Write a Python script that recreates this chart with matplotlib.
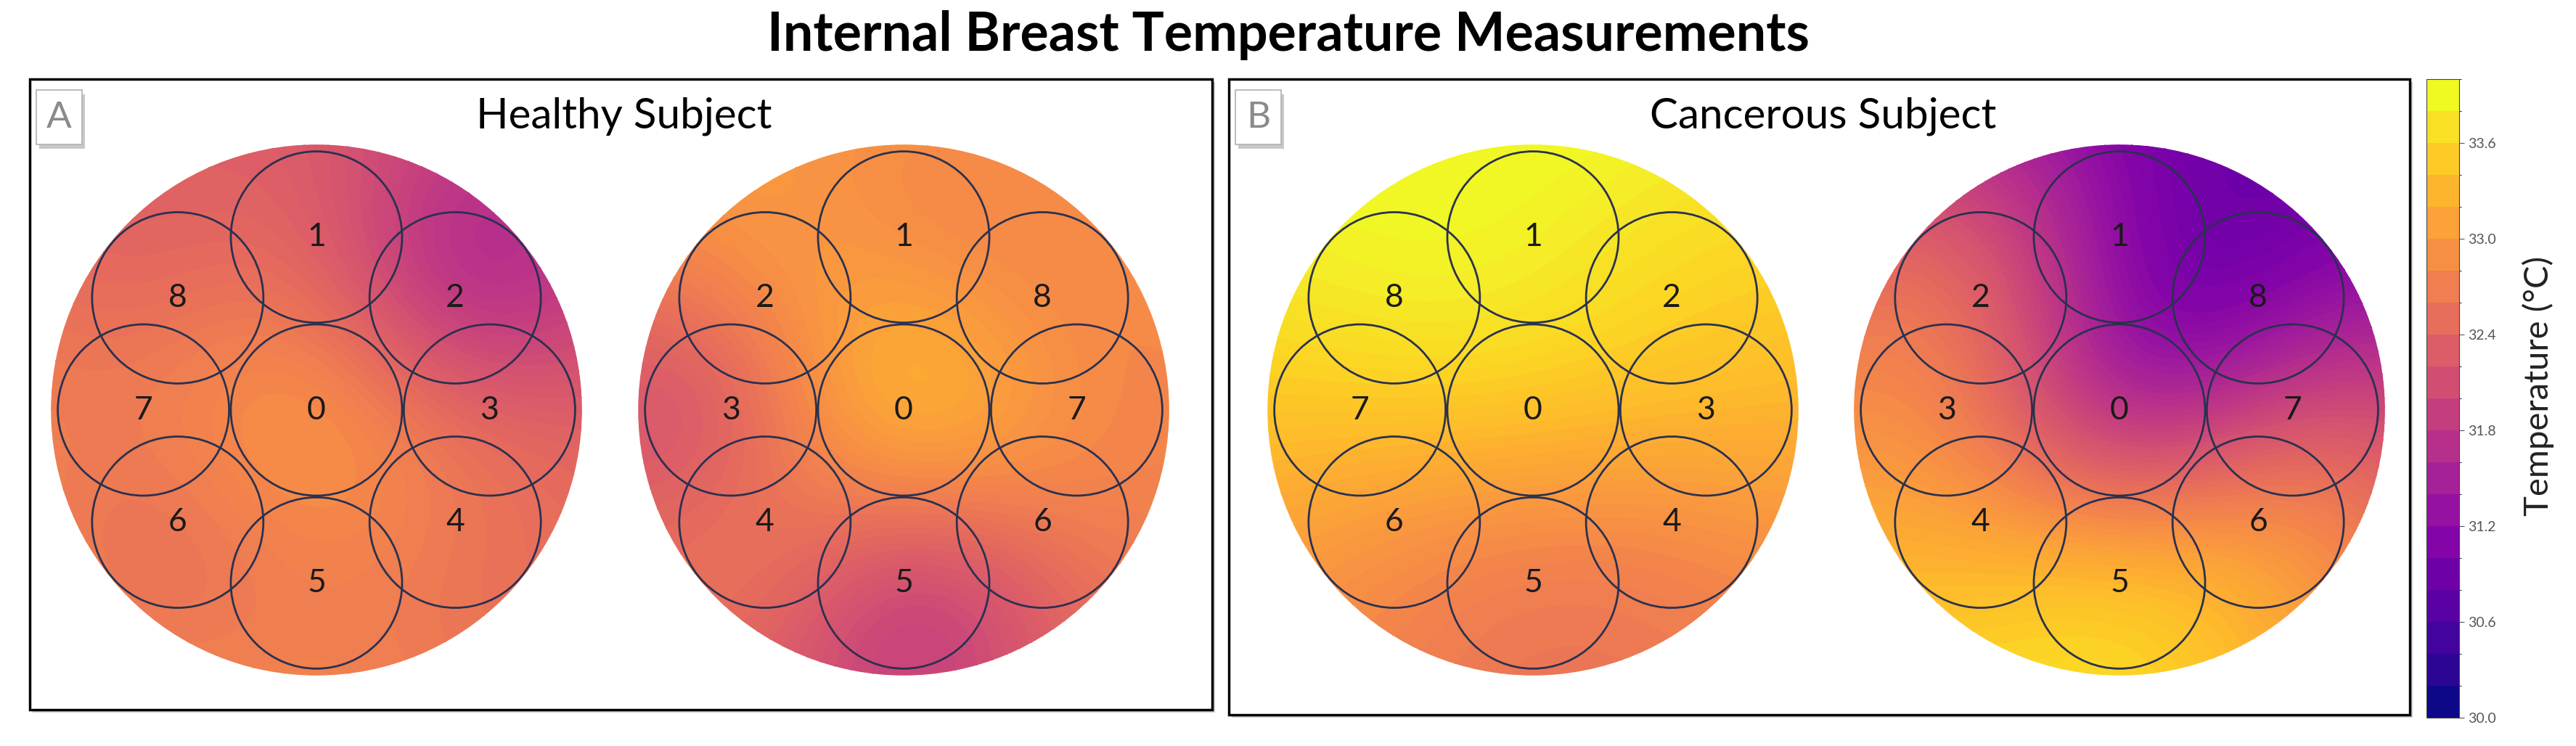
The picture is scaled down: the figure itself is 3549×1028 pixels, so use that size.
import numpy as np
import matplotlib.pyplot as plt
from matplotlib.patches import Circle, Rectangle
from matplotlib.colors import BoundaryNorm
from matplotlib.cm import ScalarMappable

plt.rcParams['font.family'] = ['Lato', 'DejaVu Sans']

W, H = 3549, 1028
fig = plt.figure(figsize=(W / 100, H / 100), dpi=100)

# ------------------------------------------------------------
# Data: temperature (°C) at each sensor, index = sensor number 0..8
# ------------------------------------------------------------
sensor_ids = [0, 1, 2, 3, 4, 5, 6, 7, 8]
healthy_left = [32.85, 32.3, 31.85, 32.35, 32.65, 32.75, 32.65, 32.7, 32.55]
healthy_right = [33.15, 32.95, 32.85, 32.45, 32.55, 32.15, 32.65, 32.9, 32.9]
cancer_left = [33.45, 33.9, 33.65, 33.35, 32.95, 32.75, 33.05, 33.5, 33.85]
cancer_right = [31.8, 31.2, 32.3, 32.75, 33.1, 33.35, 32.85, 32.0, 31.1]

fill_levels = np.arange(30.0, 34.001, 0.05)
cbar_levels = np.arange(30.0, 34.001, 0.2)
cbar_ticks = [30.0, 30.6, 31.2, 31.8, 32.4, 33.0, 33.6]

# sensor layout (units of one sensor radius), left breast, clockwise from top
sx = np.array([0.0, 0.0, 1.62, 2.02, 1.62, 0.0, -1.62, -2.02, -1.62])
sy = np.array([0.0, 2.02, 1.31, 0.0, -1.31, -2.02, -1.31, 0.0, 1.31])
R_SENSOR = 1.0
R_BREAST = 3.1
PX_PER_UNIT = 118
TREND = 0.6    # share of the fitted plane kept when extrapolating
SIGMA = 1.4    # width of the gaussian kernel


def surface(px, py, v, gx, gy):
    # damped planar trend + gaussian RBF through the residuals
    P = np.column_stack([np.ones_like(px), px, py])
    coef = np.linalg.lstsq(P, v, rcond=None)[0]
    coef[1:] *= TREND
    coef[0] = v.mean() - coef[1] * px.mean() - coef[2] * py.mean()
    res = v - P @ coef
    d = np.hypot(px[:, None] - px[None, :], py[:, None] - py[None, :])
    w = np.linalg.solve(np.exp(-(d / SIGMA) ** 2 / 2), res)
    dg = np.hypot(gx[..., None] - px, gy[..., None] - py)
    return np.exp(-(dg / SIGMA) ** 2 / 2) @ w + coef[0] + coef[1] * gx + coef[2] * gy


def draw_breast(cx, cy, values, mirror):
    s = 3.15 * PX_PER_UNIT
    ax = fig.add_axes([(cx - s) / W, 1 - (cy + s) / H, 2 * s / W, 2 * s / H])
    ax.set_xlim(-3.15, 3.15)
    ax.set_ylim(-3.15, 3.15)
    ax.set_aspect('equal')
    ax.axis('off')
    px = -sx if mirror else sx
    g = np.linspace(-3.2, 3.2, 300)
    gx, gy = np.meshgrid(g, g)
    z = np.clip(surface(px, sy, np.array(values), gx, gy), 30.0, 33.99)
    cs = ax.contourf(gx, gy, z, levels=fill_levels, cmap='plasma',
                     vmin=30, vmax=34)
    cs.set_edgecolor('face')
    cs.set_linewidth(0.6)
    disk = Circle((0, 0), R_BREAST, transform=ax.transData)
    cs.set_clip_path(disk)
    for i in sensor_ids:
        ax.add_patch(Circle((px[i], sy[i]), R_SENSOR, fill=False,
                            ec='#2a3150', lw=2.0, zorder=3))
        ax.text(px[i], sy[i], str(i), ha='center', va='center',
                fontsize=32, color='#1a1a1a', zorder=4)
    return cs


def panel_box(x0, y0, x1, y1):
    fig.patches.append(Rectangle((x0 / W + 0.0012, 1 - y1 / H - 0.004),
                                 (x1 - x0) / W, (y1 - y0) / H,
                                 transform=fig.transFigure, fc='#d0d0d0',
                                 ec='none', zorder=-3))
    fig.patches.append(Rectangle((x0 / W, 1 - y1 / H), (x1 - x0) / W,
                                 (y1 - y0) / H, transform=fig.transFigure,
                                 fc='white', ec='black', lw=2.5, zorder=-2))


def letter_box(x0, y0, letter):
    w, h = 63, 75
    fig.patches.append(Rectangle(((x0 + 4) / W, 1 - (y0 + h + 6) / H), w / W,
                                 h / H, transform=fig.transFigure,
                                 fc='#c8c8c8', ec='none', zorder=2))
    fig.patches.append(Rectangle((x0 / W, 1 - (y0 + h) / H), w / W, h / H,
                                 transform=fig.transFigure, fc='white',
                                 ec='#b0b0b0', lw=1.2, zorder=3))
    fig.text((x0 + w / 2) / W, 1 - (y0 + h / 2) / H, letter, ha='center',
             va='center', fontsize=37, color='#8a8a8a', zorder=4)


panel_box(41, 109, 1670, 978)
panel_box(1693, 109, 3320, 985)
letter_box(50, 124, 'A')
letter_box(1702, 124, 'B')

fig.text(1775 / W, 1 - 48 / H, 'Internal Breast Temperature Measurements',
         ha='center', va='center', fontsize=53, fontweight='bold')
fig.text(860 / W, 1 - 160 / H, 'Healthy Subject', ha='center', va='center',
         fontsize=42)
fig.text(2512 / W, 1 - 160 / H, 'Cancerous Subject', ha='center', va='center',
         fontsize=42)

draw_breast(436, 565, healthy_left, mirror=False)
draw_breast(1245, 565, healthy_right, mirror=True)
draw_breast(2112, 565, cancer_left, mirror=False)
draw_breast(2920, 565, cancer_right, mirror=True)

cax = fig.add_axes([3343 / W, 1 - 989 / H, 45 / W, 880 / H])
sm = ScalarMappable(norm=BoundaryNorm(cbar_levels, 256), cmap='plasma')
cb = fig.colorbar(sm, cax=cax, ticks=cbar_ticks)
cb.ax.set_yticklabels([f'{t:.1f}' for t in cbar_ticks])
cb.ax.tick_params(labelsize=14, colors='#555555', length=5)
cb.outline.set_edgecolor('#444444')
fig.text(3497 / W, 1 - 532 / H, 'Temperature (°C)', rotation=90,
         ha='center', va='center', fontsize=34, color='#222222')

fig.savefig('out.png', dpi=100, facecolor='white')
